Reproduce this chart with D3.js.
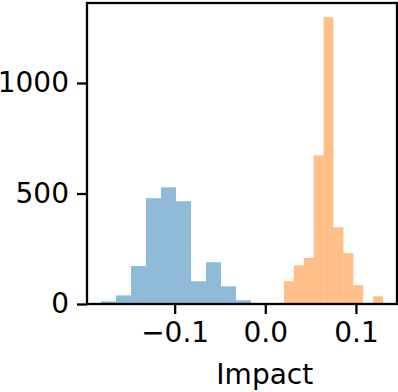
<!DOCTYPE html>
<html>
<head>
<meta charset="utf-8">
<script src="https://cdn.jsdelivr.net/npm/d3@7"></script>
<style>
  html, body { margin: 0; padding: 0; background: #fff; }
  svg { display: block; font-family: "DejaVu Sans", sans-serif; }
</style>
</head>
<body>
<svg id="chart" width="398" height="392"></svg>
<script>
// histogram bins
const blueEdges = [-0.1812, -0.1647, -0.1481, -0.1316, -0.1150, -0.0985, -0.0819, -0.0654, -0.0489, -0.0323, -0.0158]
const blueCounts = [12, 39, 172, 479, 528, 465, 103, 189, 80, 17]
const orangeEdges = [0.0206, 0.0315, 0.0424, 0.0534, 0.0643, 0.0752, 0.0862, 0.0971, 0.1080, 0.1189, 0.1299]
const orangeCounts = [103, 175, 208, 673, 1298, 347, 230, 85, 0, 35]
const xTicks = [-0.1, 0.0, 0.1]
const yTicks = [0, 500, 1000]
const xLabel = 'Impact'

const width = 398, height = 392
const margin = { top: 3, right: 1, bottom: 88, left: 87 }
const w = width - margin.left - margin.right
const h = height - margin.top - margin.bottom

const svg = d3.select('#chart')
const g = svg.append('g').attr('transform', `translate(${margin.left},${margin.top})`)

const x = d3.scaleLinear().domain([-0.1967, 0.1453]).range([0, w])
const y = d3.scaleLinear().domain([0, 1362]).range([h, 0])

function bins(edges, counts) {
  return counts.map((c, i) => ({ x0: edges[i], x1: edges[i + 1], count: c }))
}

const series = [
  { data: bins(blueEdges, blueCounts), color: '#1f77b4' },
  { data: bins(orangeEdges, orangeCounts), color: '#ff7f0e' }
]

series.forEach(s => {
  g.append('g').selectAll('rect')
    .data(s.data.filter(d => d.count > 0))
    .join('rect')
    .attr('x', d => x(d.x0))
    .attr('width', d => x(d.x1) - x(d.x0))
    .attr('y', d => y(d.count))
    .attr('height', d => y(0) - y(d.count))
    .attr('fill', s.color)
    .attr('fill-opacity', 0.5)
})

// axes
const xAxis = d3.axisBottom(x).tickValues(xTicks).tickFormat(d3.format('.1f')).tickSize(10).tickPadding(8)
const yAxis = d3.axisLeft(y).tickValues(yTicks).tickFormat(d3.format('d')).tickSize(10).tickPadding(8)

const gx = g.append('g').attr('transform', `translate(0,${h})`).call(xAxis)
const gy = g.append('g').call(yAxis)
;[gx, gy].forEach(a => {
  a.select('.domain').remove()
  a.selectAll('.tick line').attr('stroke', '#000').attr('stroke-width', 2.3)
  a.selectAll('.tick text').attr('fill', '#000').style('font-size', '28px').style('font-family', '"DejaVu Sans", sans-serif')
})

// frame
g.append('rect')
  .attr('x', 0).attr('y', 0).attr('width', w).attr('height', h)
  .attr('fill', 'none').attr('stroke', '#000').attr('stroke-width', 2.3)

svg.append('text')
  .attr('x', margin.left + x(0.0) - 0.5)
  .attr('y', 384)
  .attr('text-anchor', 'middle')
  .style('font-size', '28px')
  .attr('fill', '#000')
  .text(xLabel)
</script>
</body>
</html>
